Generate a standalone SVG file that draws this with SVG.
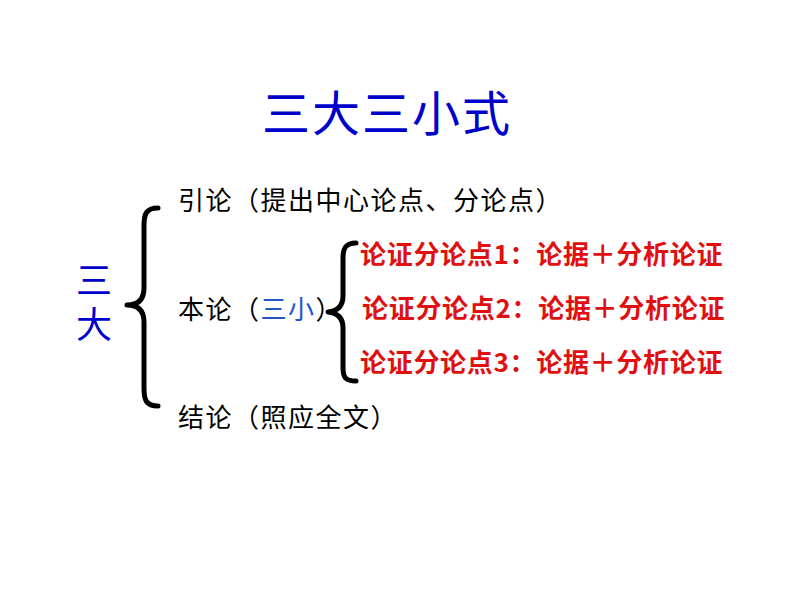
<svg xmlns="http://www.w3.org/2000/svg" width="800" height="600" viewBox="0 0 800 600">
<style>
.t{font-family:"Noto Sans CJK SC","Liberation Sans",sans-serif;}
.blk{font-size:26px;fill:#000;letter-spacing:1.5px;}
.red{font-size:26px;fill:#E01010;font-weight:bold;letter-spacing:0.7px;}
.br{fill:none;stroke:#000;stroke-width:5;stroke-linecap:round;stroke-linejoin:round;}
</style>
<rect width="800" height="600" fill="#fff"/>
<g id="title"><text class="t" x="387" y="131" text-anchor="middle" font-size="48" fill="#0000CC" letter-spacing="2">三大三小式</text></g>
<g id="sanda"><text class="t" x="94" y="262" writing-mode="vertical-rl" font-size="36" fill="#0000CC" letter-spacing="8">三大</text></g>
<g id="connectors">
<path class="br" d="M158,208 C146,208 144,214 144,226 L144,288 C144,300 138,305 127,305 C138,305 144,310 144,322 L144,388 C144,400 146,406 158,406"/>
<path class="br" d="M356,243 C346,243 343,248 343,258 L343,296 C343,306 338,311 328,312 C338,313 343,318 343,328 L343,368 C343,378 346,381 356,381"/>
</g>
<g id="yinlun"><text class="t blk" x="178" y="210">引论（提出中心论点、分论点）</text></g>
<g id="benlun"><text class="t blk" x="178" y="319">本论（<tspan fill="#2255CC">三小</tspan>）</text></g>
<g id="jielun"><text class="t blk" x="178" y="427">结论（照应全文）</text></g>
<g id="p1"><text class="t red" x="360" y="264">论证分论点1：论据＋分析论证</text></g>
<g id="p2"><text class="t red" x="362" y="318">论证分论点2：论据＋分析论证</text></g>
<g id="p3"><text class="t red" x="360" y="372">论证分论点3：论据＋分析论证</text></g>
</svg>
